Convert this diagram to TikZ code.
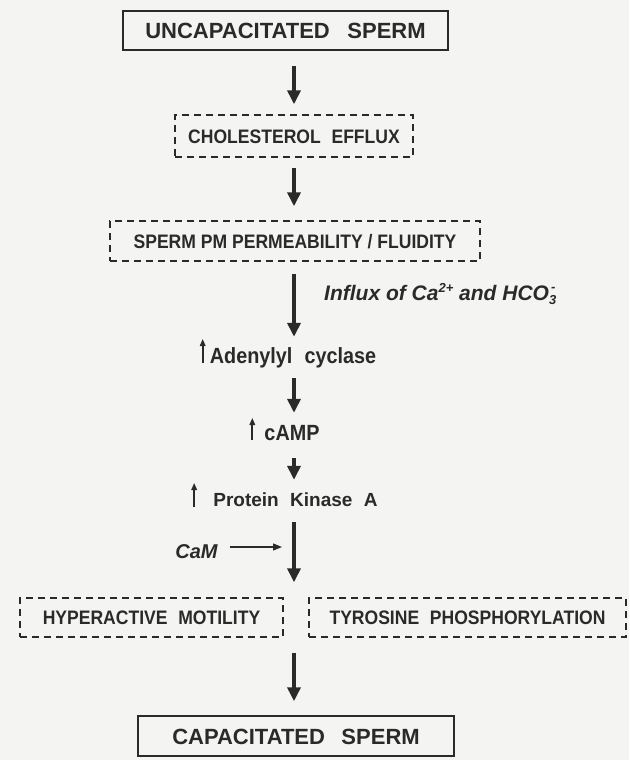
\documentclass[tikz,border=0pt]{standalone}
\usepackage{fontspec}
\setmainfont{Liberation Sans}
\newfontfamily\cnd{Liberation Sans}[FakeStretch=0.9]
\usetikzlibrary{arrows.meta}
\definecolor{ink}{HTML}{2A2A2A}
\definecolor{paper}{HTML}{F4F4F2}
\newcommand{\wsp}{\hspace{0.55em}}
\tikzset{
  titlebox/.style={draw=ink, text=ink, line width=1.5pt, inner sep=0pt,
    font=\fontsize{22}{24}\selectfont\bfseries, text height=16pt, text depth=0pt},
  dashbox/.style={draw=ink, text=ink, line width=1.4pt, dash pattern=on 7pt off 5pt,
    inner sep=0pt, font=\fontsize{19.5}{21}\selectfont\cnd\bfseries, text height=14pt, text depth=0pt},
  steplabel/.style={text=ink, inner sep=0pt, anchor=base,
    font=\fontsize{22}{24}\selectfont\cnd\bfseries, text height=16pt, text depth=5pt},
  pkalabel/.style={text=ink, inner sep=0pt, anchor=base,
    font=\fontsize{19}{21}\selectfont\bfseries, text height=14pt, text depth=5pt},
  sidelabel/.style={text=ink, inner sep=0pt, anchor=base west,
    font=\fontsize{21}{23}\selectfont\bfseries\itshape},
  camlabel/.style={text=ink, inner sep=0pt, anchor=base,
    font=\fontsize{20}{22}\selectfont\bfseries\itshape, text height=14pt, text depth=0pt},
  bigarrow/.style={draw=ink, line width=3.6pt, -{Triangle[width=13pt,length=14pt]}},
  uparrow/.style={draw=ink, line width=1.6pt, -{Triangle[width=5.5pt,length=7pt]}},
  camarrow/.style={draw=ink, line width=1.3pt, -{Triangle[width=7pt,length=9pt]}},
}
\begin{document}
\begin{tikzpicture}[x=1pt,y=-1pt]
\fill[paper] (0,0) rectangle (629,760);
\useasboundingbox (0,0) rectangle (629,760);

\coordinate (axis) at (294,0);

\node[titlebox, minimum width=325pt, minimum height=39pt] (uncap) at (285.5,30.5) {UNCAPACITATED\hspace{0.8em}SPERM};
\node[dashbox, minimum width=238pt, minimum height=42pt] (chol) at (294,136) {CHOLESTEROL\wsp EFFLUX};
\node[dashbox, minimum width=370pt, minimum height=40pt] (perm) at (295,241) {SPERM PM PERMEABILITY / FLUIDITY};
\node[sidelabel] (influx) at (324,300) {Influx of Ca\raisebox{8pt}{\fontsize{13}{13}\selectfont 2+} and HCO\rlap{\raisebox{-4pt}{\fontsize{13}{13}\selectfont 3}}\raisebox{9pt}{\fontsize{13}{13}\selectfont\,-}};
\node[steplabel] (adc) at (293,363) {Adenylyl\wsp cyclase};
\node[steplabel] (camp) at (292,440) {cAMP};
\node[pkalabel] (pka) at (295.5,506) {Protein\hspace{0.6em}Kinase\hspace{0.6em}A};
\node[camlabel] (cam) at (196.5,558) {CaM};
\node[dashbox, minimum width=263pt, minimum height=39pt] (hyper) at (151.5,617.5) {HYPERACTIVE\wsp MOTILITY};
\node[dashbox, minimum width=317pt, minimum height=39pt] (tyro) at (467.5,617.5) {TYROSINE\wsp PHOSPHORYLATION};
\node[titlebox, minimum width=316pt, minimum height=40pt] (cap) at (296,736) {CAPACITATED\hspace{0.75em}SPERM};

% main cascade
\draw[bigarrow, shorten <=15pt, shorten >=10pt] (uncap.south -| axis) -- (chol.north -| axis);
\draw[bigarrow, shorten <=10pt, shorten >=14pt] (chol.south -| axis) -- (perm.north -| axis);
\draw[bigarrow, shorten <=12pt, shorten >=10pt] (perm.south -| axis) -- (adc.north -| axis);
\draw[bigarrow, shorten <=10pt, shorten >=11pt] (adc.south -| axis) -- (camp.north -| axis);
\draw[bigarrow, shorten <=13pt, shorten >=12pt] (camp.south -| axis) -- (pka.north -| axis);
\draw[bigarrow, shorten <=11pt, shorten >=15pt] (pka.south -| axis) -- (hyper.north -| axis);
\draw[bigarrow, shorten <=15pt, shorten >=14pt] (hyper.south -| axis) -- (cap.north -| axis);

% CaM input
\draw[camarrow, shorten <=12pt, shorten >=12pt] ([yshift=4pt]cam.east) -- ([yshift=4pt]cam.east -| axis);

% "increase" arrows
\draw[uparrow] ([xshift=-7pt]adc.base west) -- ([xshift=-7pt,yshift=24pt]adc.base west);
\draw[uparrow] ([xshift=-12pt]camp.base west) -- ([xshift=-12pt,yshift=22pt]camp.base west);
\draw[uparrow] ([xshift=-19pt,yshift=-1pt]pka.base west) -- ([xshift=-19pt,yshift=23pt]pka.base west);
\end{tikzpicture}
\end{document}
